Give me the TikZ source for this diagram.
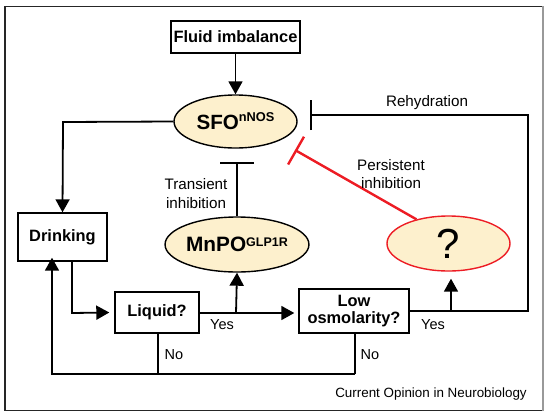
\documentclass[tikz,border=0pt]{standalone}
\usepackage{fontspec}
\setmainfont{Liberation Sans}
\usetikzlibrary{shapes.geometric,arrows.meta}
\definecolor{cream}{RGB}{253,240,205}
\definecolor{myred}{RGB}{237,28,36}
\begin{document}
\begin{tikzpicture}[x=1pt,y=-1pt,
  boxq/.style={draw=black,line width=1.4pt,rectangle,inner sep=0pt,font=\fontsize{16.4}{17}\selectfont\bfseries,align=center},
  ell/.style={draw=black,line width=1.4pt,ellipse,fill=cream,inner sep=0pt},
  conn/.style={line width=1.8pt},
  arr/.style={conn,-{Triangle[width=14pt,length=13pt]}},
  inh/.style={conn,-{Bar[width=30pt,line width=2.4pt]}},
  lbl/.style={font=\fontsize{15.2}{18.5}\selectfont,align=center,inner sep=0pt},
  yn/.style={font=\fontsize{14.5}{17}\selectfont,inner sep=0pt}]
\useasboundingbox (0,0) rectangle (551,418);
\fill[white] (0,0) rectangle (551,418);
\draw[line width=1.3pt,black!85] (542.7,6.7) -- (5,6.7) -- (5,410.7) -- (542.7,410.7);
\draw[line width=1.8pt,black!40] (542.7,6) -- (542.7,411.4);

\node[boxq,minimum width=129pt,minimum height=32pt] (fluid) at (235.5,37) {Fluid imbalance};
\node[ell,minimum width=123pt,minimum height=53pt,font=\fontsize{20.6}{22}\selectfont\bfseries] (sfo) at (235.5,121.5) {SFO\raisebox{8pt}{\fontsize{12.8}{13}\selectfont nNOS}};
\node[boxq,minimum width=89pt,minimum height=48pt] (drink) at (62.5,237) {Drinking};
\node[ell,minimum width=120pt,minimum height=55pt,font=\fontsize{20.8}{22}\selectfont\bfseries] (mnpo) at (237,244.5) {MnPO\raisebox{5pt}{\fontsize{12.5}{13}\selectfont GLP1R}};
\node[ell,draw=myred,minimum width=123pt,minimum height=55pt,font=\fontsize{42}{44}\selectfont] (q) at (448.5,243.5) {?};
\node[boxq,minimum width=84pt,minimum height=41pt] (liquid) at (157,312.5) {Liquid?};
\node[boxq,minimum width=110pt,minimum height=44pt] (osmo) at (354,311) {Low\\osmolarity?};

\coordinate (sfoL) at (63,122);
\coordinate (rehA) at (528,311);
\coordinate (rehB) at (528,115);
\coordinate (rehT) at (310,115);
\coordinate (dk1) at (72,313);
\coordinate (yes1) at (236,313);
\coordinate (yes2) at (451,311);
\coordinate (liqB) at (158,374);
\coordinate (osmB) at (355,374);
\coordinate (bl) at (52,374);
\coordinate (mnT) at (237,162);
\coordinate (redT) at (295,150);

\draw[arr] (fluid.south) -- (sfo.north);
\draw[arr] (sfo.west) -- (sfoL) -- (drink.north);
\draw[arr] (drink.south -| dk1) -- (dk1) -- ([xshift=-5pt]liquid.west);
\draw[arr] (liquid.east |- yes1) -- ([xshift=-4pt]osmo.west |- yes1);
\draw[arr] (yes1) -- (mnpo.south);
\draw[arr,shorten >=7pt] (yes2) -- (q.south -| yes2);
\draw[inh] (osmo.east |- rehA) -- (rehA) -- (rehB) -- (rehT);
\draw[conn] (liquid.south -| liqB) -- (liqB);
\draw[arr] (osmB) -- (bl) -- ([yshift=4pt]drink.south -| bl);
\draw[conn] (osmo.south -| osmB) -- (osmB);
\draw[conn,-{Bar[width=34pt,line width=2.4pt]}] (mnpo.north) -- (mnT);
\draw[myred,line width=2.4pt,-{Bar[width=32pt,line width=2.4pt]}] (q.143) -- (redT);

\node[lbl] (reh) at (427,103) {Rehydration};
\node[lbl] (pers) at (391,174) {Persistent\\inhibition};
\node[lbl] (trans) at (196,193.5) {Transient\\inhibition};
\node[yn] (y1) at (222,325) {Yes};
\node[yn] (y2) at (433,325) {Yes};
\node[yn] (n1) at (174,355) {No};
\node[yn] (n2) at (370,355) {No};
\node[font=\fontsize{13.4}{15}\selectfont,inner sep=0pt] (src) at (431,394) {Current Opinion in Neurobiology};
\end{tikzpicture}
\end{document}
